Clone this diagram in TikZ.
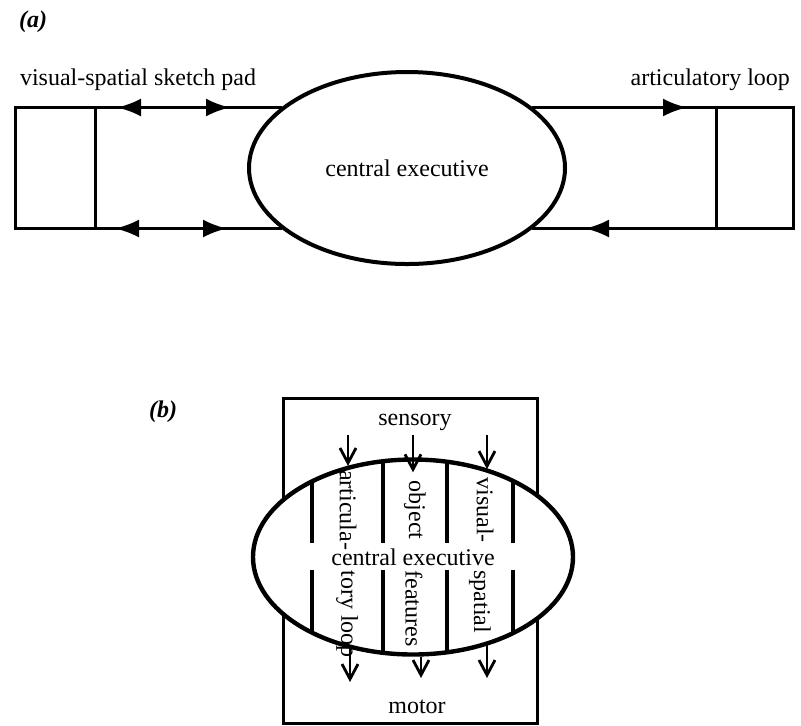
\documentclass[tikz,border=0pt]{standalone}
\usepackage{fontspec}
\setmainfont{Liberation Serif}
\usetikzlibrary{arrows.meta,shapes.geometric,decorations.markings,calc}

\begin{document}
\begin{tikzpicture}[x=0.5pt, y=-0.5pt,
    >={Latex[length=12pt,width=9pt]},
    every node/.append style={align=center, font=\fontsize{12}{14}\selectfont},
    tag/.style={anchor=base west, font=\fontsize{12}{14}\selectfont\bfseries\itshape},
    store/.style={draw, line width=1.5pt, inner sep=0, outer sep=0, minimum width=#1, minimum height=60.5pt},
    exec/.style={draw, ellipse, line width=2pt, fill=white, inner sep=0,
                 minimum width=158pt, minimum height=96pt},
    link/.style={line width=1.5pt},
    twoway/.style 2 args={link, postaction={decorate, decoration={markings,
        mark=at position #1 with {\arrowreversed{>}},
        mark=at position #2 with {\arrow{>}}}}},
    oneway/.style={link, postaction={decorate, decoration={markings,
        mark=at position #1 with {\arrow{>}}}}},
    flow/.style={line width=1.4pt, -{Straight Barb[length=7.5pt,width=8pt]}},
    vtxt/.style={rotate=-90, inner sep=0}]
    \useasboundingbox (0,0) rectangle (801,725);

    % (a)
    \node [tag] (tagA) at (12,27) {(a)};
    \node [anchor=base west] (sketchlbl) at (13,85) {visual-spatial sketch pad};
    \node [anchor=base east] (looplbl) at (797,85) {articulatory loop};
    \node [store=40pt] (sketch) at (55,168) {};
    \node [store=38.5pt] (loop) at (754.5,168) {};
    \node [exec] (ceA) at (407,168) {central executive};

    \draw [twoway={11pt}{67.5pt}] (sketch.north east) -- (sketch.north east -| ceA.154);
    \draw [twoway={10pt}{66pt}] (sketch.south east) -- (sketch.south east -| ceA.206);
    \draw [oneway=-14.5pt] (loop.north west -| ceA.26) -- (loop.north west);
    \draw [oneway=65.5pt] (loop.south west) -- (loop.south west -| ceA.-26);

    % (b)
    \node [tag] (tagB) at (142,417) {(b)};
    \node [draw, line width=1.5pt, minimum width=127pt, minimum height=162.5pt] (frame) at (410,560.5) {};
    \node [exec, minimum width=160pt, minimum height=97.5pt, line width=2.2pt] (ceB) at (413,557) {central executive};
    \begin{scope}
      \clip (ceB.center) ellipse [x radius=80pt, y radius=48.75pt];
      \foreach \x in {312,383,447,513} {
        \draw [line width=1.8pt] (\x,440) -- (\x,543);
        \draw [line width=1.8pt] (\x,570) -- (\x,680);
      }
    \end{scope}

    \node [anchor=base] (sensory) at (415,425) {sensory};
    \node [anchor=base] (motor) at (417,713) {motor};

    \node [vtxt] (artic) at (348,510) {articula-};
    \node [vtxt] (obj) at (415,510) {object};
    \node [vtxt] (vis) at (485,510) {visual-};
    \node [vtxt, anchor=west] (tory) at (347,570) {tory loop};
    \node [vtxt, anchor=west] (feat) at (414,570) {features};
    \node [vtxt, anchor=west] (spat) at (480,570) {spatial};

    \coordinate (in1) at (348,435);
    \coordinate (in2) at (413,435);
    \coordinate (in3) at (487,435);
    \coordinate (out1) at (350,682);
    \coordinate (out2) at (421,678);
    \coordinate (out3) at (487,678);
    \draw [flow] (in1) -- (in1 |- ceB.126);
    \draw [flow] (in2) -- ($(in2 |- ceB.north)+(0,15)$);
    \draw [flow] (in3) -- (in3 |- ceB.49);
    \draw [flow] (out1 |- ceB.235) -- (out1);
    \draw [flow] (out2 |- ceB.south) -- (out2);
    \draw [flow] (out3 |- ceB.-49) -- (out3);
\end{tikzpicture}
\end{document}
